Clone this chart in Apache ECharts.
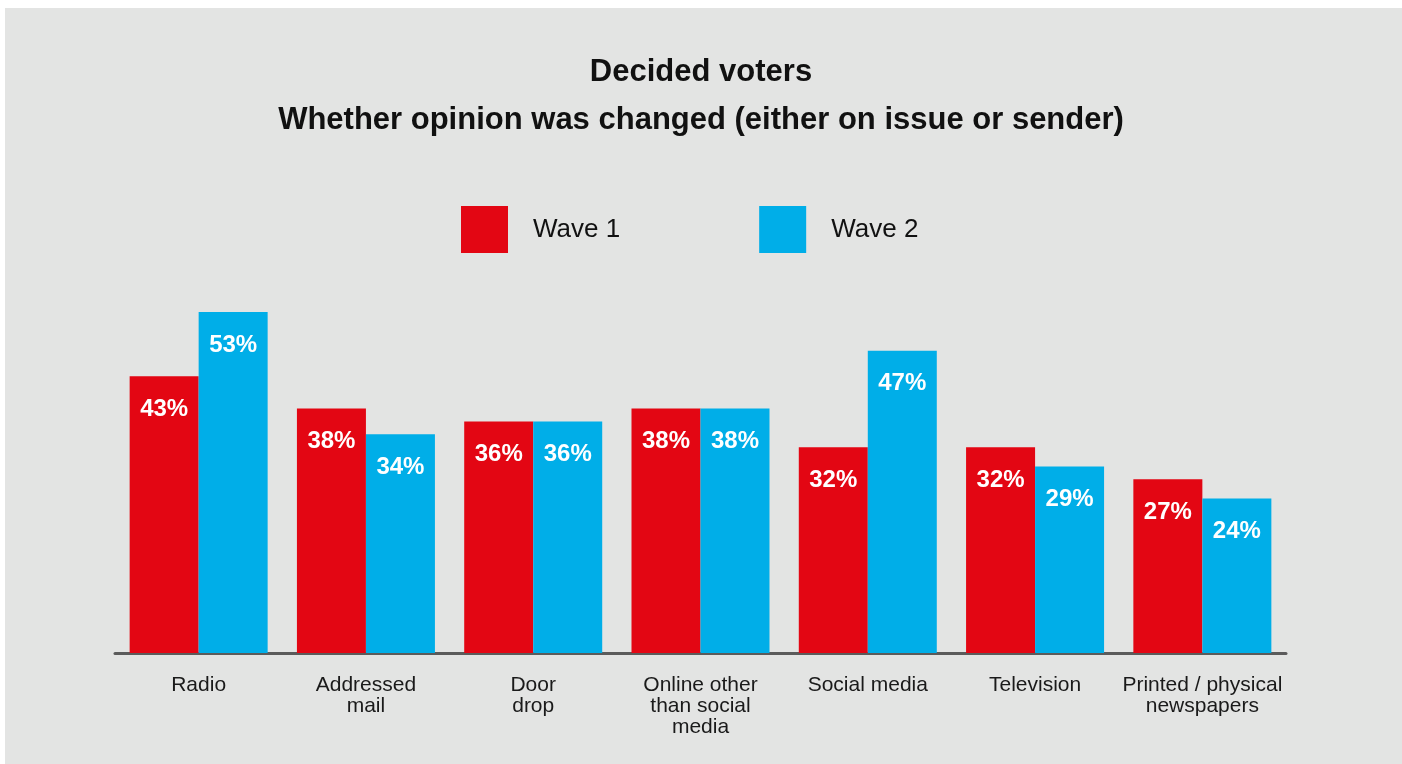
<!DOCTYPE html>
<html>
<head>
<meta charset="utf-8">
<title>Decided voters</title>
<script src="https://cdn.jsdelivr.net/npm/echarts@6/dist/echarts.min.js"></script>
<style>
  html, body { margin: 0; padding: 0; background: #ffffff; }
  #panel { position: absolute; left: 5px; top: 8px; right: 0; bottom: 0; background: #e3e4e3; }
  #chart { position: absolute; left: 0; top: 0; width: 1402px; height: 764px; }
</style>
</head>
<body>
<div id="panel"></div>
<div id="chart"></div>
<script>
// Channels shown along the x axis
const categories = [
  'Radio',
  'Addressed\nmail',
  'Door\ndrop',
  'Online other\nthan social\nmedia',
  'Social media',
  'Television',
  'Printed / physical\nnewspapers'
];

// Share of decided voters whose opinion was changed (%)
const wave1 = [43, 38, 36, 38, 32, 32, 27];
const wave2 = [53, 34, 36, 38, 47, 29, 24];

const FONT = '"Liberation Sans", Arial, Helvetica, sans-serif';
const RED = '#e30613';
const BLUE = '#00aee8';

const chart = echarts.init(document.getElementById('chart'), null, { renderer: 'canvas' });

const valueLabel = {
  show: true,
  position: 'insideTop',
  distance: 21,
  formatter: '{c}%',
  color: '#ffffff',
  fontFamily: FONT,
  fontWeight: 'bold',
  fontSize: 24
};

chart.setOption({
  backgroundColor: 'transparent',
  animation: false,
  title: {
    text: 'Decided voters\nWhether opinion was changed (either on issue or sender)',
    left: 'center',
    top: 43,
    textStyle: {
      fontFamily: FONT,
      fontWeight: 'bold',
      fontSize: 31,
      lineHeight: 48,
      color: '#111111'
    }
  },
  legend: {
    data: ['Wave 1', 'Wave 2'],
    left: 461,
    top: 206,
    padding: 0,
    itemWidth: 47,
    itemHeight: 47,
    itemGap: 139,
    icon: 'rect',
    textStyle: {
      fontFamily: FONT,
      fontSize: 26,
      color: '#111111',
      padding: [8, 0, 0, 20]
    }
  },
  grid: {
    left: 115,
    right: 116,
    top: 267,
    bottom: 764 - 653
  },
  xAxis: {
    type: 'category',
    data: categories,
    axisLine: { show: true, lineStyle: { color: '#5b5b5b', width: 3 } },
    axisTick: { show: false },
    axisLabel: {
      margin: 22,
      interval: 0,
      fontFamily: FONT,
      fontSize: 21,
      lineHeight: 21,
      color: '#1a1a1a',
      align: 'center'
    }
  },
  yAxis: {
    type: 'value',
    min: 0,
    max: 60,
    show: false,
    splitLine: { show: false }
  },
  series: [
    {
      name: 'Wave 1',
      type: 'bar',
      data: wave1,
      barWidth: 69,
      barGap: '0%',
      itemStyle: { color: RED },
      label: valueLabel
    },
    {
      name: 'Wave 2',
      type: 'bar',
      data: wave2,
      barWidth: 69,
      barGap: '0%',
      itemStyle: { color: BLUE },
      label: valueLabel
    }
  ]
});
</script>
</body>
</html>
